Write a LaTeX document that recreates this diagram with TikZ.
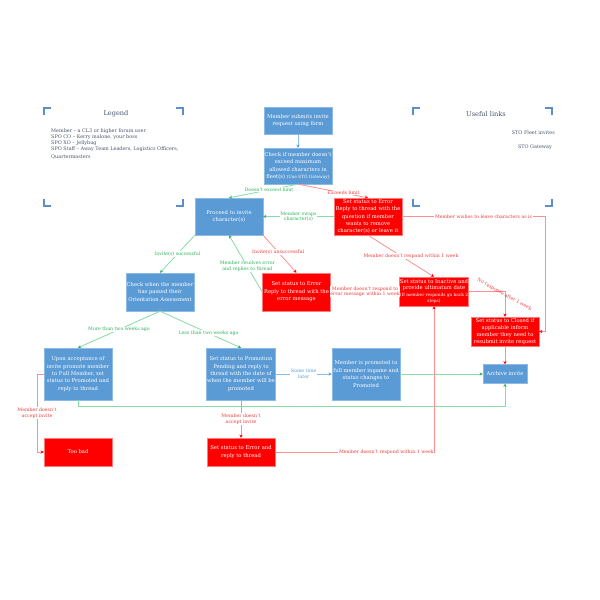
\documentclass[tikz,border=0pt]{standalone}
\usepackage{fontspec}
\setmainfont{DejaVu Serif}
\usepackage{tikz}
\usetikzlibrary{calc,arrows.meta}
\definecolor{boxc}{HTML}{5B9BD5}
\definecolor{boxl}{HTML}{8DBBE6}
\definecolor{errc}{HTML}{FF0000}
\definecolor{errl}{HTML}{FF7A7A}
\definecolor{grc}{HTML}{86DBA6}
\definecolor{grt}{HTML}{2DB35E}
\definecolor{rdc}{HTML}{FF8E8E}
\definecolor{rdt}{HTML}{EE3B3B}
\definecolor{lgc}{HTML}{44546A}
\definecolor{brc}{HTML}{5B8FCC}
\tikzset{
  box/.style={draw=boxl,fill=boxc,text=white,align=center,minimum width=68pt,inner sep=0.5pt,font=\fontsize{5.25}{7.4}\selectfont},
  ebox/.style={box,draw=errl,fill=errc},
  lab/.style={font=\fontsize{4.7}{5.6}\selectfont,fill=white,inner sep=0.6pt,align=center},
  glab/.style={lab,text=grt},
  rlab/.style={lab,text=rdt},
  blab/.style={lab,text=boxc},
  grar/.style={-{Stealth[length=3.2pt,width=3.2pt,color=grt]},grc,line width=0.8pt},
  rdar/.style={-{Stealth[length=3.2pt,width=3.2pt,color=errc]},rdc,line width=0.8pt},
  blar/.style={-{Stealth[length=3.2pt,width=3.2pt,color=boxc]},boxl,line width=0.8pt},
  brk/.style={brc,line width=1.4pt},
  lgt/.style={text=lgc,font=\fontsize{4.9}{6}\selectfont,align=left,inner sep=0pt}
}
\begin{document}
\begin{tikzpicture}[x=1pt,y=-1pt]
\useasboundingbox (0,0) rectangle (600,600);
\foreach \xa/\xb in {44/183,413/552}{
  \draw[brk] (\xa,115) |- (\xa+7,108);
  \draw[brk] (\xb-7,108) -| (\xb,115);
  \draw[brk] (\xa,199) |- (\xa+7,206);
  \draw[brk] (\xb-7,206) -| (\xb,199);
}
\node[text=lgc,font=\fontsize{6.6}{7}\selectfont] (leg) at (116,114) {Legend};
\node[lgt,anchor=north west] (legtxt) at (51,128.5) {Member -- a CL3 or higher forum user\\SPO CO -- Kerry malone, your boss\\SPO XO -- Jellybug\\SPO Staff -- Away Team Leaders, Logistics Officers,\\[1.6pt]Quartermasters};
\node[text=lgc,font=\fontsize{6.6}{7}\selectfont] (links) at (486,114) {Useful links};
\node[lgt,anchor=east] (fleet) at (555,133) {STO Fleet invites};
\node[lgt,anchor=east] (gate) at (552,147) {STO Gateway};

\node[box,minimum height=27pt] (submit) at (298,120.5) {Member submits invite\\request using form};
\node[box,minimum height=36pt] (check) at (298,166) {Check if member doesn't\\exceed maximum\\allowed characters in\\fleet(s) {\fontsize{4.3}{5}\selectfont(Use STO Gateway)}};
\node[box,minimum height=37pt] (proceed) at (229,216.5) {Proceed to invite\\character(s)};
\node[ebox,minimum height=37pt] (errswap) at (368,216.5) {Set status to Error\\Reply to thread with the\\question if member\\wants to remove\\character(s) or leave it};
\node[box,minimum height=38pt] (orient) at (160,292) {Check when the member\\has passed their\\Orientation Assessment};
\node[ebox,minimum height=38pt] (errmsg) at (296.5,292) {Set status to Error\\Reply to thread with the\\error message};
\node[ebox,minimum height=29pt,font=\fontsize{5.25}{6.6}\selectfont] (inactive) at (434,291.5) {Set status to Inactive and\\provide ultimatum date\\{\fontsize{4.3}{6.4}\selectfont(If member responds go back 2}\\{\fontsize{4.3}{6.4}\selectfont steps)}};
\node[ebox,minimum height=29pt,font=\fontsize{5.25}{6.8}\selectfont] (closed) at (505,331.5) {Set status to Closed if\\applicable inform\\member they need to\\resubmit invite request};
\node[box,minimum width=44pt,minimum height=19pt] (archive) at (505,374) {Archive invite};
\node[box,minimum height=52pt] (promote) at (78,374) {Upon acceptance of\\invite promote member\\to Full Member, set\\status to Promoted and\\reply to thread};
\node[ebox,minimum height=28pt] (toobad) at (78,452) {Too bad};
\node[box,minimum height=52pt] (pending) at (241,374) {Set status to Promotion\\Pending and reply to\\thread with the date of\\when the member will be\\promoted};
\node[box,minimum height=52pt] (ingame) at (366,374) {Member is promoted to\\full member ingame and\\status changes to\\Promoted};
\node[ebox,minimum height=28pt] (errinv) at (241,452) {Set status to Error and\\reply to thread};

\coordinate (rside) at (545,0);
\coordinate (lside) at (37,0);
\coordinate (low) at (505,406);

\draw[blar] (submit) -- (check);
\draw[grar] (check.south) -- node[glab,pos=0.42]{Doesn't exceed limit} (proceed.north);
\draw[rdar] (check.south) -- node[rlab,pos=0.65]{Exceeds limit} (errswap.north);
\draw[grar] (errswap.west) -- node[glab]{Member swaps\\character(s)} (proceed.east);
\draw[rdar] (errswap.east) -- node[rlab,pos=0.57]{Member wishes to leave characters as is} (errswap.east -| rside) |- (closed.east);
\draw[rdar] (errswap.south) -- node[rlab,xshift=10pt]{Member doesn't respond within 1 week} (inactive.north);
\draw[grar] (proceed.south west) -- node[glab]{Invite(s) successful} (orient.north);
\draw[rdar] (proceed.south east) -- node[rlab,pos=0.45]{Invite(s) unsuccessful} (errmsg.north);
\draw[grar] (errmsg.west) -- node[glab,pos=0.45]{Member resolves error\\and replies to thread} (proceed.south);
\draw[rdar] (errmsg.east) -- node[rlab]{Member doesn't respond to\\error message within 1 week} (inactive.west);
\draw[rdar] (inactive.east) -| node[rlab,fill=none,rotate=-29,xshift=1pt,yshift=-3pt]{No response after 1 week} (closed.north);
\draw[rdar] (closed) -- (archive);
\draw[grar] (orient.south) -- node[glab]{More than two weeks ago} (promote.north);
\draw[grar] (orient.south) -- node[glab,pos=0.6]{Less than two weeks ago} (pending.north);
\draw[grar] (promote.south) |- (low) -- (archive.south);
\draw[rdar] (promote.west) -- (promote.west -| lside) -- node[rlab]{Member doesn't\\accept invite} (toobad.west -| lside) -- (toobad.west);
\draw[blar] (pending) -- node[blab]{Some time\\later} (ingame);
\draw[grar] (ingame) -- (archive);
\draw[rdar] (pending) -- node[rlab]{Member doesn't\\accept invite} (errinv);
\draw[rdar] (errinv.east) -- node[rlab,pos=0.7]{Member doesn't respond within 1 week} (errinv.east -| inactive.south) -- (inactive.south);
\end{tikzpicture}
\end{document}
